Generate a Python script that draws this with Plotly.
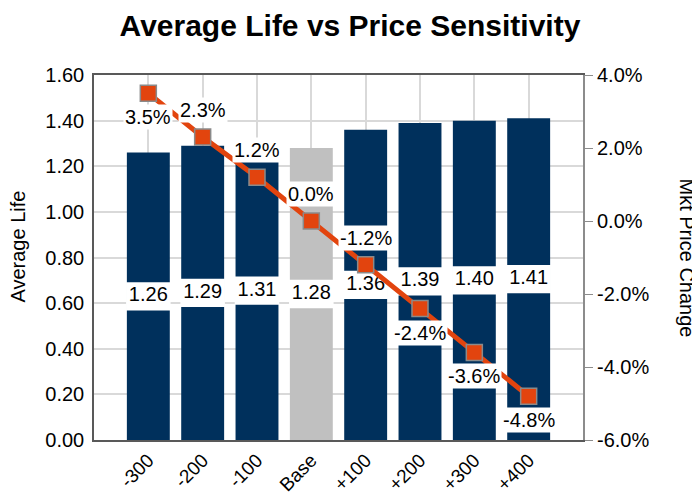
import plotly.graph_objects as go

categories = ["-300", "-200", "-100", "Base", "+100", "+200", "+300", "+400"]
avg_life = [1.26, 1.29, 1.31, 1.28, 1.36, 1.39, 1.40, 1.41]
price_change = [0.035, 0.023, 0.012, 0.000, -0.012, -0.024, -0.036, -0.048]
y_ticks = [0.0, 0.2, 0.4, 0.6, 0.8, 1.0, 1.2, 1.4, 1.6]
y2_ticks = [-0.06, -0.04, -0.02, 0.0, 0.02, 0.04]

# style
FONT = "Arial, Liberation Sans, sans-serif"
NAVY = "#00305C"
GRAY_BAR = "#C0C0C0"
ORANGE = "#E2440E"
label_side = ["below", "above", "above", "above", "above", "below", "below", "below"]
box_half = 0.062

bar_colors = [GRAY_BAR if c == "Base" else NAVY for c in categories]
mids = [v / 2 for v in avg_life]
idx = list(range(len(categories)))

fig = go.Figure()
fig.add_trace(go.Bar(x=idx, y=avg_life, marker=dict(color=bar_colors, line=dict(width=0)),
                     width=0.79, hoverinfo="skip", showlegend=False))
fig.add_trace(go.Bar(x=idx, y=[2 * box_half] * len(categories),
                     base=[m - box_half for m in mids],
                     marker=dict(color="white", line=dict(width=0)),
                     width=0.82, hoverinfo="skip", showlegend=False))
fig.add_trace(go.Scatter(x=idx, y=mids, mode="text",
                         text=[f"{v:.2f}" for v in avg_life],
                         textfont=dict(family=FONT, size=20, color="black"),
                         hoverinfo="skip", showlegend=False))
fig.add_trace(go.Scatter(x=idx, y=price_change, yaxis="y2", mode="lines+markers",
                         line=dict(color=ORANGE, width=5),
                         marker=dict(symbol="square", size=16, color=ORANGE,
                                     line=dict(color="#8a8a8a", width=1.5)),
                         hoverinfo="skip", showlegend=False, cliponaxis=False))

for i, v, side in zip(idx, price_change, label_side):
    fig.add_annotation(x=i, y=v, xref="x", yref="y2", text=f"{v*100:.1f}%", showarrow=False,
                       yshift=(-24 if side == "below" else 27),
                       bgcolor="white", borderpad=1,
                       font=dict(family=FONT, size=20, color="black"))

fig.add_annotation(xref="paper", yref="paper", x=-0.1554, y=0.53, xanchor="center", yanchor="middle",
                   text="Average Life", textangle=-90, showarrow=False,
                   font=dict(family=FONT, size=20, color="black"))
fig.add_annotation(xref="paper", yref="paper", x=1.2127, y=0.5, xanchor="center", yanchor="middle",
                   text="Mkt Price Change", textangle=90, showarrow=False,
                   font=dict(family=FONT, size=20, color="black"))

fig.update_layout(
    width=692, height=491,
    margin=dict(l=86, r=117, t=67, b=59, autoexpand=False),
    paper_bgcolor="white", plot_bgcolor="white",
    barmode="overlay",
    title=dict(text="<b>Average Life vs Price Sensitivity</b>", x=0.4942, xanchor="center",
               y=0.9644, yanchor="middle",
               font=dict(family=FONT, size=30, color="black")),
    font=dict(family=FONT, color="black"),
    xaxis=dict(range=[-1, 8], tickvals=idx, ticktext=categories,
               showgrid=True, gridcolor="#D9D9D9", gridwidth=2, zeroline=False,
               showline=True, linecolor="#595959", linewidth=1.5, mirror=True,
               tickangle=-45, tickfont=dict(family=FONT, size=19, color="black"),
               ticks="", automargin=False),
    yaxis=dict(range=[0, 1.6], tickvals=y_ticks, ticktext=[f"{t:.2f}" for t in y_ticks],
               showgrid=True, gridcolor="#D9D9D9", gridwidth=2, zeroline=False,
               showline=True, linecolor="#595959", linewidth=1.5,
               ticks="outside", ticklen=4, tickcolor="rgba(0,0,0,0)",
               tickfont=dict(family=FONT, size=20, color="black"), automargin=False),
    yaxis2=dict(range=[-0.06, 0.04], overlaying="y", side="right",
                tickvals=y2_ticks, ticktext=[f"{t*100:.1f}%" for t in y2_ticks],
                showgrid=False, zeroline=False,
                showline=True, linecolor="#8C8C8C", linewidth=2,
                ticks="outside", ticklen=8, tickcolor="#8C8C8C",
                tickfont=dict(family=FONT, size=20, color="black"), automargin=False),
)

fig.write_html("out.html")
